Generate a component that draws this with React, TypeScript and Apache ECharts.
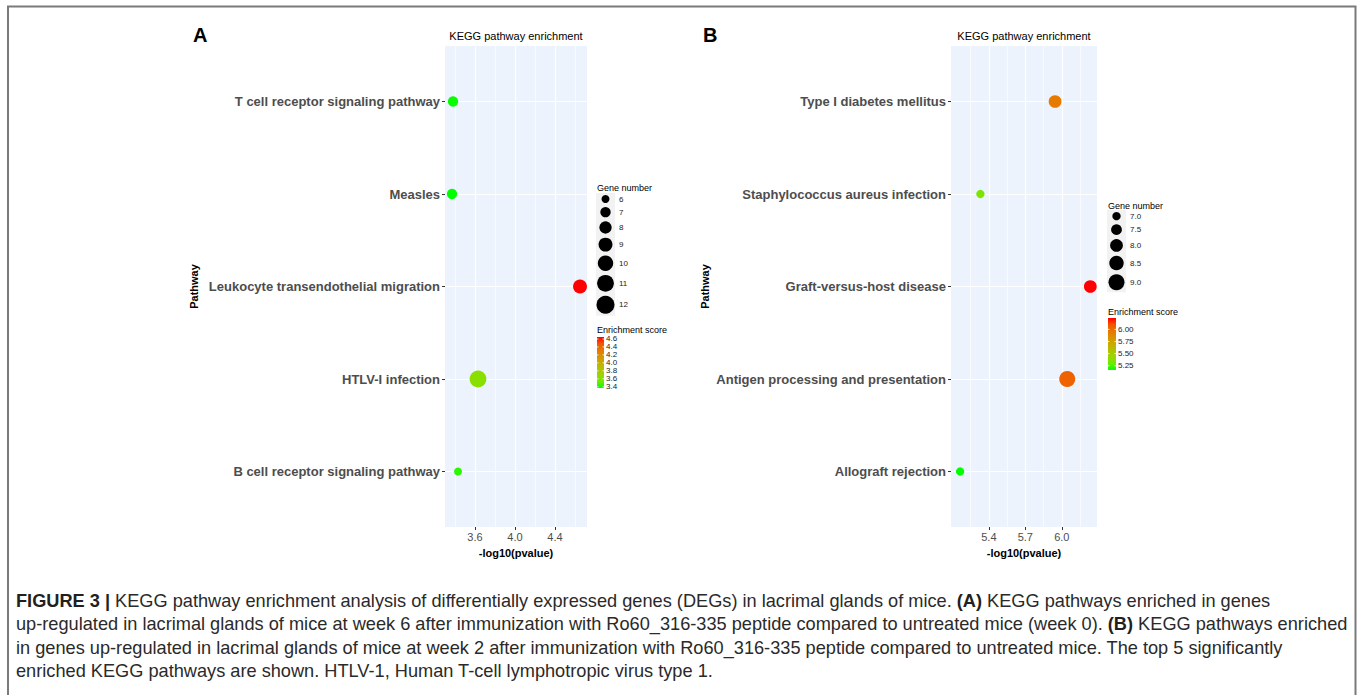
import { useEffect, useRef } from "react";
import * as echarts from "echarts";

// ---------- data ----------
const pathwaysA = [
  "T cell receptor signaling pathway",
  "Measles",
  "Leukocyte transendothelial migration",
  "HTLV-I infection",
  "B cell receptor signaling pathway",
];
const scoreA = [3.38, 3.37, 4.65, 3.63, 3.43];
const genesA = [7, 7, 9, 11, 6];

const pathwaysB = [
  "Type I diabetes mellitus",
  "Staphylococcus aureus infection",
  "Graft-versus-host disease",
  "Antigen processing and presentation",
  "Allograft rejection",
];
const scoreB = [5.945, 5.33, 6.235, 6.045, 5.163];
const genesB = [8, 7, 8, 9, 7];

const xTicksA = [3.6, 4.0, 4.4];
const xMinorA = [3.4, 3.8, 4.2, 4.6];
const xTicksB = [5.4, 5.7, 6.0];
const xMinorB = [5.25, 5.55, 5.85, 6.15];

const geneKeysA = [6, 7, 8, 9, 10, 11, 12];
const geneKeysB = [7.0, 7.5, 8.0, 8.5, 9.0];
const scoreTicksA = [3.4, 3.6, 3.8, 4.0, 4.2, 4.4, 4.6];
const scoreTicksB = [5.25, 5.5, 5.75, 6.0];

const captionLines = [
  "{b|FIGURE 3 |} KEGG pathway enrichment analysis of differentially expressed genes (DEGs) in lacrimal glands of mice. {b|(A)} KEGG pathways enriched in genes",
  "up-regulated in lacrimal glands of mice at week 6 after immunization with Ro60_316-335 peptide compared to untreated mice (week 0). {b|(B)} KEGG pathways enriched",
  "in genes up-regulated in lacrimal glands of mice at week 2 after immunization with Ro60_316-335 peptide compared to untreated mice. The top 5 significantly",
  "enriched KEGG pathways are shown. HTLV-1, Human T-cell lymphotropic virus type 1.",
];

// ---------- styling ----------
const COLOR_STOPS = [
  "#00FF00", "#70EB00", "#98D700", "#B3C200", "#C8AB00",
  "#D99200", "#E87600", "#F45300", "#FF0000",
];
const FONT = "Liberation Sans, Arial, Helvetica, sans-serif";
const PANEL_BG = "#EDF3FC";
const CAPTION_SIZE = 18.2;

type PanelCfg = {
  idx: number;
  letter: string;
  letterX: number;
  pathways: string[];
  scores: number[];
  genes: number[];
  gridLeft: number;
  gridWidth: number;
  xMin: number;
  xMax: number;
  xTicks: number[];
  xMinor: number[];
  xFmt: (v: number) => string;
  sizeDomain: [number, number];
  sizeRange: [number, number];
  geneKeys: number[];
  geneFmt: (v: number) => string;
  geneTitleY: number;
  geneTop: number;
  legendX: number;
  scoreTicks: number[];
  scoreFmt: (v: number) => string;
  scoreTitleY: number;
  barTop: number;
  barW: number;
  barH: number;
  nameGap: number;
};

const GRID_TOP = 46;
const GRID_H = 481;

function sizeOf(cfg: PanelCfg, n: number) {
  const [lo, hi] = cfg.sizeDomain;
  const [d0, d1] = cfg.sizeRange;
  const t = (n - lo) / (hi - lo);
  return Math.sqrt(d0 * d0 + t * (d1 * d1 - d0 * d0));
}

function buildPanel(cfg: PanelCfg) {
  const i = cfg.idx;
  const grid = {
    left: cfg.gridLeft,
    top: GRID_TOP,
    width: cfg.gridWidth,
    height: GRID_H,
    show: true,
    backgroundColor: PANEL_BG,
    borderWidth: 0,
  };
  const xMain = {
    type: "value",
    gridIndex: i,
    min: cfg.xMin,
    max: cfg.xMax,
    position: "bottom",
    name: "-log10(pvalue)",
    nameLocation: "middle",
    nameGap: 20,
    nameTextStyle: { fontFamily: FONT, fontSize: 11, fontWeight: "bold", color: "#000" },
    axisLine: { show: false },
    axisTick: { show: true, length: 3, customValues: cfg.xTicks, lineStyle: { color: "#333", width: 1 } },
    axisLabel: {
      customValues: cfg.xTicks,
      formatter: (v: number) => cfg.xFmt(v),
      fontFamily: FONT,
      fontSize: 11,
      color: "#4D4D4D",
      margin: 4,
    },
    splitLine: { show: true, lineStyle: { color: "#FFFFFF", width: 1.2 } },
  };
  const xMinor = {
    type: "value",
    gridIndex: i,
    min: cfg.xMin,
    max: cfg.xMax,
    position: "top",
    axisLine: { show: false },
    axisTick: { show: false, customValues: cfg.xMinor },
    axisLabel: { show: false },
    splitLine: { show: true, lineStyle: { color: "#FFFFFF", width: 0.6 } },
  };
  const yAxis = {
    type: "value",
    gridIndex: i,
    min: 0.4,
    max: 5.6,
    inverse: true,
    name: "Pathway",
    nameLocation: "middle",
    nameRotate: 90,
    nameGap: cfg.nameGap,
    nameTextStyle: { fontFamily: FONT, fontSize: 11, fontWeight: "bold", color: "#000" },
    axisLine: { show: false },
    axisTick: {
      show: true,
      length: 3,
      customValues: cfg.pathways.map((_, k) => k + 1),
      lineStyle: { color: "#333", width: 1 },
    },
    axisLabel: {
      customValues: cfg.pathways.map((_, k) => k + 1),
      formatter: (v: number) => cfg.pathways[Math.round(v) - 1] ?? "",
      fontFamily: FONT,
      fontSize: 13,
      fontWeight: "bold",
      color: "#4D4D4D",
      margin: 5,
    },
    splitLine: { show: true, lineStyle: { color: "#FFFFFF", width: 1.2 } },
  };
  const series = {
    type: "scatter",
    xAxisIndex: i * 2,
    yAxisIndex: i,
    z: 3,
    data: cfg.scores.map((s, k) => [s, k + 1, cfg.genes[k]]),
    symbolSize: (v: number[]) => sizeOf(cfg, v[2]),
    itemStyle: { opacity: 1, borderWidth: 0 },
    emphasis: { disabled: true },
  };
  const sMin = Math.min(...cfg.scores);
  const sMax = Math.max(...cfg.scores);
  const visualMap = {
    type: "continuous",
    show: false,
    seriesIndex: i,
    dimension: 0,
    min: sMin,
    max: sMax,
    inRange: { color: COLOR_STOPS },
  };

  const g: any[] = [];
  g.push({
    type: "text",
    x: cfg.letterX,
    y: 35,
    style: { text: cfg.letter, fontFamily: FONT, fontSize: 20, fontWeight: "bold", fill: "#000", verticalAlign: "middle" },
  });
  g.push({
    type: "text",
    x: cfg.gridLeft + cfg.gridWidth / 2,
    y: 36,
    style: { text: "KEGG pathway enrichment", fontFamily: FONT, fontSize: 11, fill: "#000", align: "center", verticalAlign: "middle" },
  });
  g.push({
    type: "text",
    x: cfg.legendX,
    y: cfg.geneTitleY,
    style: { text: "Gene number", fontFamily: FONT, fontSize: 9, fill: "#000", verticalAlign: "middle" },
  });
  const heights = cfg.geneKeys.map((n) => sizeOf(cfg, n) + 4);
  const totalH = heights.reduce((a, b) => a + b, 0);
  g.push({
    type: "rect",
    shape: { x: cfg.legendX - 1, y: cfg.geneTop, width: 19, height: totalH },
    style: { fill: "#F2F2F2" },
  });
  let acc = cfg.geneTop;
  cfg.geneKeys.forEach((n, k) => {
    const cy = acc + heights[k] / 2;
    acc += heights[k];
    g.push({
      type: "circle",
      shape: { cx: cfg.legendX + 8.5, cy, r: sizeOf(cfg, n) / 2 },
      style: { fill: "#000" },
    });
    g.push({
      type: "text",
      x: cfg.legendX + 22,
      y: cy,
      style: { text: cfg.geneFmt(n), fontFamily: FONT, fontSize: 8, fill: "#222", verticalAlign: "middle" },
    });
  });
  g.push({
    type: "text",
    x: cfg.legendX,
    y: cfg.scoreTitleY,
    style: { text: "Enrichment score", fontFamily: FONT, fontSize: 9, fill: "#000", verticalAlign: "middle" },
  });
  g.push({
    type: "rect",
    shape: { x: cfg.legendX, y: cfg.barTop, width: cfg.barW, height: cfg.barH },
    style: {
      fill: {
        type: "linear",
        x: 0,
        y: 1,
        x2: 0,
        y2: 0,
        colorStops: COLOR_STOPS.map((c, k) => ({ offset: k / (COLOR_STOPS.length - 1), color: c })),
      },
    },
  });
  cfg.scoreTicks.forEach((v) => {
    const y = cfg.barTop + cfg.barH * (1 - (v - sMin) / (sMax - sMin));
    g.push({
      type: "line",
      shape: { x1: cfg.legendX, y1: y, x2: cfg.legendX + 1.5, y2: y },
      style: { stroke: "#FFFFFF", lineWidth: 0.8 },
    });
    g.push({
      type: "line",
      shape: { x1: cfg.legendX + cfg.barW - 1.5, y1: y, x2: cfg.legendX + cfg.barW, y2: y },
      style: { stroke: "#FFFFFF", lineWidth: 0.8 },
    });
    g.push({
      type: "text",
      x: cfg.legendX + cfg.barW + 2,
      y,
      style: { text: cfg.scoreFmt(v), fontFamily: FONT, fontSize: 8, fill: "#222", verticalAlign: "middle" },
    });
  });

  return { grid, xAxes: [xMain, xMinor], yAxis, series, visualMap, graphics: g };
}

const panelA = buildPanel({
  idx: 0,
  letter: "A",
  letterX: 193,
  pathways: pathwaysA,
  scores: scoreA,
  genes: genesA,
  gridLeft: 445,
  gridWidth: 142,
  xMin: 3.3,
  xMax: 4.72,
  xTicks: xTicksA,
  xMinor: xMinorA,
  xFmt: (v) => v.toFixed(1),
  sizeDomain: [6, 12],
  sizeRange: [8, 18],
  geneKeys: geneKeysA,
  geneFmt: (v) => String(v),
  geneTitleY: 188,
  geneTop: 193,
  legendX: 597,
  scoreTicks: scoreTicksA,
  scoreFmt: (v) => v.toFixed(1),
  scoreTitleY: 330,
  barTop: 337,
  barW: 7,
  barH: 51,
  nameGap: 246,
});

const panelB = buildPanel({
  idx: 1,
  letter: "B",
  letterX: 703,
  pathways: pathwaysB,
  scores: scoreB,
  genes: genesB,
  gridLeft: 951,
  gridWidth: 146,
  xMin: 5.088,
  xMax: 6.29,
  xTicks: xTicksB,
  xMinor: xMinorB,
  xFmt: (v) => v.toFixed(1),
  sizeDomain: [7, 9],
  sizeRange: [8.3, 16],
  geneKeys: geneKeysB,
  geneFmt: (v) => v.toFixed(1),
  geneTitleY: 206,
  geneTop: 210,
  legendX: 1108,
  scoreTicks: scoreTicksB,
  scoreFmt: (v) => v.toFixed(2),
  scoreTitleY: 312,
  barTop: 318,
  barW: 8,
  barH: 52,
  nameGap: 241,
});

const captionGraphics = captionLines.map((line, k) => ({
  type: "text",
  x: 16,
  y: 601 + k * 23.3,
  style: {
    text: line,
    fontFamily: FONT,
    fontSize: CAPTION_SIZE,
    fill: "#2A2A2A",
    verticalAlign: "middle",
    rich: {
      b: { fontFamily: FONT, fontSize: CAPTION_SIZE, fontWeight: "bold", fill: "#231F20" },
    },
  },
}));

const frame = {
  type: "polyline",
  shape: { points: [[8, 700], [8, 6.5], [1355.5, 6.5], [1355.5, 700]] },
  style: { stroke: "#7A7A7A", lineWidth: 2, fill: "none" },
};

const option: any = {
  animation: false,
  backgroundColor: "#FFFFFF",
  grid: [panelA.grid, panelB.grid],
  xAxis: [...panelA.xAxes, ...panelB.xAxes],
  yAxis: [panelA.yAxis, panelB.yAxis],
  visualMap: [panelA.visualMap, panelB.visualMap],
  series: [panelA.series, panelB.series],
  graphic: [frame, ...panelA.graphics, ...panelB.graphics, ...captionGraphics],
};

export default function App() {
  const ref = useRef<HTMLDivElement>(null);
  useEffect(() => {
    if (!ref.current) return;
    const chart = echarts.init(ref.current, null, { renderer: "svg" });
    chart.setOption(option);
    return () => chart.dispose();
  }, []);
  return (
    <div
      ref={ref}
      style={{ position: "fixed", left: 0, top: 0, width: 1360, height: 695, background: "#fff" }}
    />
  );
}
